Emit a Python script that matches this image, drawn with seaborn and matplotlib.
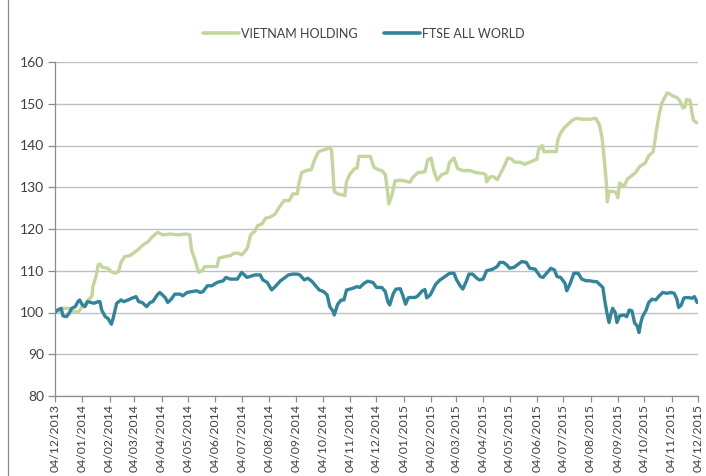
import matplotlib
matplotlib.use("Agg")
import matplotlib.pyplot as plt
import matplotlib.dates as mdates
from matplotlib.lines import Line2D
import seaborn as sns
import pandas as pd

# ---------------- data ----------------
vn_dates = [
    "2013-12-04", "2013-12-06", "2013-12-12", "2013-12-16", "2013-12-21", "2013-12-24", "2013-12-30",
    "2014-01-04", "2014-01-09", "2014-01-13", "2014-01-15", "2014-01-16", "2014-01-20", "2014-01-22",
    "2014-01-24", "2014-01-27", "2014-02-02", "2014-02-06", "2014-02-10", "2014-02-14", "2014-02-17",
    "2014-02-21", "2014-02-27", "2014-03-04", "2014-03-08", "2014-03-14", "2014-03-20", "2014-03-23",
    "2014-03-28", "2014-03-31", "2014-04-05", "2014-04-14", "2014-04-23", "2014-05-02", "2014-05-06",
    "2014-05-08", "2014-05-12", "2014-05-16", "2014-05-20", "2014-05-23", "2014-05-31", "2014-06-06",
    "2014-06-08", "2014-06-15", "2014-06-21", "2014-06-25", "2014-06-30", "2014-07-04", "2014-07-09",
    "2014-07-11", "2014-07-14", "2014-07-19", "2014-07-22", "2014-07-27", "2014-07-31", "2014-08-05",
    "2014-08-11", "2014-08-15", "2014-08-21", "2014-08-27", "2014-08-31", "2014-09-05", "2014-09-07",
    "2014-09-10", "2014-09-15", "2014-09-21", "2014-09-24", "2014-09-29", "2014-10-03", "2014-10-09",
    "2014-10-12", "2014-10-14", "2014-10-17", "2014-10-21", "2014-10-26", "2014-10-29", "2014-10-31",
    "2014-11-04", "2014-11-09", "2014-11-12", "2014-11-14", "2014-11-19", "2014-11-27", "2014-12-01",
    "2014-12-06", "2014-12-10", "2014-12-14", "2014-12-16", "2014-12-18", "2014-12-22", "2014-12-25",
    "2014-12-31", "2015-01-05", "2015-01-11", "2015-01-14", "2015-01-20", "2015-01-28", "2015-01-31",
    "2015-02-04", "2015-02-07", "2015-02-11", "2015-02-16", "2015-02-22", "2015-02-25", "2015-03-02",
    "2015-03-06", "2015-03-12", "2015-03-20", "2015-03-27", "2015-04-04", "2015-04-07", "2015-04-08",
    "2015-04-12", "2015-04-16", "2015-04-20", "2015-04-23", "2015-04-28", "2015-05-02", "2015-05-06",
    "2015-05-10", "2015-05-16", "2015-05-21", "2015-05-29", "2015-06-04", "2015-06-06", "2015-06-10",
    "2015-06-12", "2015-06-19", "2015-06-26", "2015-06-28", "2015-07-01", "2015-07-05", "2015-07-09",
    "2015-07-14", "2015-07-19", "2015-07-26", "2015-08-03", "2015-08-10", "2015-08-14", "2015-08-17",
    "2015-08-19", "2015-08-22", "2015-08-23", "2015-08-25", "2015-08-29", "2015-09-02", "2015-09-04",
    "2015-09-06", "2015-09-11", "2015-09-15", "2015-09-20", "2015-09-24", "2015-09-29", "2015-10-05",
    "2015-10-09", "2015-10-14", "2015-10-16", "2015-10-18", "2015-10-21", "2015-10-24", "2015-10-26",
    "2015-10-30", "2015-11-02", "2015-11-06", "2015-11-10", "2015-11-13", "2015-11-17", "2015-11-19",
    "2015-11-21", "2015-11-25", "2015-11-27", "2015-11-29", "2015-12-02", "2015-12-04",
]
vn_values = [
    100.5, 100.0, 101.0, 101.0, 101.0, 100.4, 100.0,
    101.4, 102.6, 103.5, 104.0, 106.2, 109.0, 111.4,
    111.6, 110.8, 110.6, 109.8, 109.4, 109.8, 112.0,
    113.4, 113.6, 114.4, 115.0, 116.2, 117.0, 117.8,
    118.8, 119.2, 118.6, 118.8, 118.6, 118.8, 118.6,
    115.0, 112.6, 109.6, 110.0, 111.0, 111.0, 111.0,
    113.0, 113.4, 113.6, 114.2, 114.2, 113.8, 115.0,
    115.8, 118.6, 119.5, 120.8, 121.2, 122.6, 122.8,
    123.6, 125.0, 126.8, 126.8, 128.4, 128.4, 131.0,
    133.5, 134.0, 134.2, 136.2, 138.5, 138.8, 139.2,
    139.6, 138.8, 129.0, 128.4, 128.2, 128.0, 131.4,
    133.2, 134.4, 134.6, 137.4, 137.4, 137.4, 134.8,
    134.2, 134.0, 133.0, 130.0, 126.0, 128.5, 131.5,
    131.7, 131.5, 131.2, 132.3, 133.5, 133.7, 136.5,
    137.0, 134.0, 131.7, 133.0, 133.5, 136.0, 137.0,
    134.5, 134.0, 134.0, 133.5, 133.3, 133.0, 131.3,
    132.5, 132.5, 131.8, 133.0, 135.0, 137.0, 136.8,
    136.0, 136.0, 135.5, 136.2, 136.7, 139.0, 140.0,
    138.5, 138.6, 138.5, 141.5, 143.0, 144.2, 145.0,
    146.0, 146.5, 146.3, 146.3, 146.5, 145.0, 142.0,
    138.0, 131.0, 126.5, 129.0, 129.0, 128.8, 127.5,
    131.0, 130.2, 132.0, 132.8, 133.5, 135.0, 135.8,
    137.5, 138.5, 141.0, 144.0, 147.5, 150.2, 151.0,
    152.6, 152.3, 151.8, 151.5, 150.8, 149.0, 149.2,
    151.0, 150.8, 148.0, 146.0, 145.5, 145.5,
]

ftse_dates = [
    "2013-12-04", "2013-12-07", "2013-12-11", "2013-12-13", "2013-12-17", "2013-12-20", "2013-12-23",
    "2013-12-27", "2013-12-30", "2014-01-01", "2014-01-04", "2014-01-07", "2014-01-10", "2014-01-14",
    "2014-01-17", "2014-01-22", "2014-01-24", "2014-01-26", "2014-01-30", "2014-02-02", "2014-02-06",
    "2014-02-08", "2014-02-12", "2014-02-17", "2014-02-20", "2014-02-25", "2014-03-01", "2014-03-06",
    "2014-03-09", "2014-03-13", "2014-03-16", "2014-03-18", "2014-03-22", "2014-03-25", "2014-03-30",
    "2014-04-02", "2014-04-06", "2014-04-08", "2014-04-11", "2014-04-15", "2014-04-19", "2014-04-25",
    "2014-04-28", "2014-05-03", "2014-05-08", "2014-05-14", "2014-05-18", "2014-05-21", "2014-05-26",
    "2014-05-31", "2014-06-06", "2014-06-13", "2014-06-16", "2014-06-21", "2014-06-29", "2014-07-04",
    "2014-07-10", "2014-07-13", "2014-07-19", "2014-07-25", "2014-07-28", "2014-08-02", "2014-08-07",
    "2014-08-11", "2014-08-17", "2014-08-21", "2014-08-26", "2014-08-31", "2014-09-05", "2014-09-08",
    "2014-09-13", "2014-09-17", "2014-09-22", "2014-09-25", "2014-09-30", "2014-10-05", "2014-10-09",
    "2014-10-12", "2014-10-16", "2014-10-17", "2014-10-21", "2014-10-25", "2014-10-28", "2014-10-31",
    "2014-11-04", "2014-11-07", "2014-11-12", "2014-11-15", "2014-11-20", "2014-11-24", "2014-11-30",
    "2014-12-04", "2014-12-10", "2014-12-14", "2014-12-17", "2014-12-19", "2014-12-23", "2014-12-26",
    "2014-12-31", "2015-01-03", "2015-01-06", "2015-01-09", "2015-01-12", "2015-01-17", "2015-01-20",
    "2015-01-25", "2015-01-28", "2015-01-30", "2015-02-03", "2015-02-05", "2015-02-09", "2015-02-14",
    "2015-02-17", "2015-02-21", "2015-02-25", "2015-03-02", "2015-03-05", "2015-03-09", "2015-03-12",
    "2015-03-16", "2015-03-19", "2015-03-23", "2015-03-28", "2015-03-31", "2015-04-04", "2015-04-08",
    "2015-04-12", "2015-04-15", "2015-04-20", "2015-04-23", "2015-04-27", "2015-05-01", "2015-05-04",
    "2015-05-09", "2015-05-14", "2015-05-18", "2015-05-23", "2015-05-27", "2015-06-02", "2015-06-08",
    "2015-06-11", "2015-06-16", "2015-06-20", "2015-06-24", "2015-06-27", "2015-07-01", "2015-07-06",
    "2015-07-08", "2015-07-12", "2015-07-16", "2015-07-21", "2015-07-25", "2015-07-30", "2015-08-03",
    "2015-08-08", "2015-08-11", "2015-08-15", "2015-08-18", "2015-08-20", "2015-08-23", "2015-08-25",
    "2015-08-27", "2015-08-29", "2015-09-01", "2015-09-03", "2015-09-06", "2015-09-11", "2015-09-14",
    "2015-09-17", "2015-09-20", "2015-09-23", "2015-09-26", "2015-09-28", "2015-09-30", "2015-10-02",
    "2015-10-06", "2015-10-09", "2015-10-13", "2015-10-17", "2015-10-21", "2015-10-25", "2015-10-30",
    "2015-11-03", "2015-11-07", "2015-11-10", "2015-11-12", "2015-11-15", "2015-11-18", "2015-11-23",
    "2015-11-27", "2015-11-30", "2015-12-03",
]
ftse_values = [
    100.0, 100.6, 101.0, 99.2, 99.0, 99.8, 101.0,
    101.4, 102.6, 103.0, 101.8, 101.4, 102.6, 102.4,
    102.2, 102.6, 102.6, 100.6, 99.0, 98.6, 97.2,
    98.6, 102.2, 103.0, 102.6, 103.0, 103.4, 103.8,
    102.6, 102.4, 101.8, 101.4, 102.4, 102.6, 104.2,
    104.8, 104.0, 103.6, 102.4, 103.2, 104.4, 104.4,
    104.0, 104.8, 105.0, 105.2, 104.8, 105.0, 106.4,
    106.4, 107.2, 107.6, 108.4, 108.0, 108.0, 109.6,
    108.4, 108.6, 109.0, 109.0, 107.8, 107.2, 105.4,
    106.2, 107.6, 108.2, 109.0, 109.2, 109.2, 109.0,
    107.8, 108.2, 107.4, 106.6, 105.4, 105.0, 104.2,
    101.4, 100.2, 99.4, 102.0, 103.0, 103.0, 105.4,
    105.6, 105.8, 106.2, 106.0, 107.0, 107.5, 107.2,
    106.0, 106.0, 105.0, 102.5, 101.8, 104.5, 105.6,
    105.7, 104.0, 102.0, 103.5, 103.6, 103.6, 104.0,
    105.2, 105.5, 103.5, 104.2, 105.0, 106.7, 107.8,
    108.2, 108.8, 109.4, 109.4, 107.8, 106.4, 105.6,
    107.5, 109.2, 109.2, 108.2, 107.8, 108.0, 110.0,
    110.2, 110.4, 111.0, 112.0, 112.0, 111.4, 110.6,
    110.8, 111.6, 112.2, 112.0, 110.6, 110.4, 108.6,
    108.4, 109.6, 110.6, 110.2, 108.6, 108.4, 107.0,
    105.2, 107.0, 109.4, 109.4, 108.0, 107.6, 107.6,
    107.4, 107.4, 106.6, 106.0, 103.0, 99.5, 97.6,
    99.5, 101.0, 100.0, 97.6, 99.2, 99.4, 99.0,
    100.6, 100.4, 97.5, 96.8, 95.2, 97.5, 99.0,
    100.5, 102.4, 103.2, 103.0, 104.0, 104.8, 104.6,
    104.8, 104.6, 103.2, 101.2, 101.8, 103.5, 103.6,
    103.4, 103.8, 102.4,
]

series_names = ["VIETNAM HOLDING", "FTSE ALL WORLD"]
series_colors = ["#c3d69b", "#31849b"]
y_ticks = [80, 90, 100, 110, 120, 130, 140, 150, 160]
tick_dates = pd.date_range("2013-12-01", "2015-12-01", freq="MS") + pd.Timedelta(days=3)

# ---------------- build frame ----------------
df = pd.concat([
    pd.DataFrame({"date": pd.to_datetime(vn_dates), "value": vn_values, "series": series_names[0]}),
    pd.DataFrame({"date": pd.to_datetime(ftse_dates), "value": ftse_values, "series": series_names[1]}),
], ignore_index=True)

sns.set_theme(style="white")
plt.rcParams["font.family"] = ["Lato", "DejaVu Sans"]

fig = plt.figure(figsize=(7.06, 4.76), dpi=100)
ax = fig.add_axes([55 / 706, 1 - 396 / 476, (698 - 55) / 706, (396 - 62) / 476])

palette = dict(zip(series_names, series_colors))
sns.lineplot(data=df, x="date", y="value", hue="series", hue_order=series_names,
             palette=palette, linewidth=2.4, ax=ax, legend=False, estimator=None, sort=True)

ax.set_xlim(pd.Timestamp("2013-12-04"), pd.Timestamp("2015-12-04"))
ax.set_ylim(80, 160)
ax.set_yticks(y_ticks)
ax.set_xticks(tick_dates)
ax.xaxis.set_major_formatter(mdates.DateFormatter("%d/%m/%Y"))
ax.set_xlabel("")
ax.set_ylabel("")

ax.grid(axis="y", color="#c0c0c0", linewidth=1.0)
ax.grid(axis="x", visible=False)
ax.set_axisbelow(True)

for side in ["top", "right"]:
    ax.spines[side].set_visible(False)
for side in ["left", "bottom"]:
    ax.spines[side].set_color("#8c8c8c")
    ax.spines[side].set_linewidth(0.9)

ax.tick_params(axis="y", which="major", direction="out", length=5, width=0.9,
               color="#8c8c8c", labelsize=10, labelcolor="#404040", pad=3, left=True)
ax.tick_params(axis="x", which="major", direction="out", length=4, width=0.9,
               color="#8c8c8c", labelsize=8.8, labelcolor="#404040", pad=2,
               rotation=90, bottom=True)

handles = [Line2D([0], [0], color=c, linewidth=2.6) for c in series_colors]
fig.legend(handles, series_names, loc="center", bbox_to_anchor=(0.515, 0.929), ncol=2,
           frameon=False, fontsize=9, handlelength=2.9, handletextpad=0.15,
           columnspacing=2.1, labelcolor="#404040")

# chart border line at the left edge
fig.add_artist(Line2D([8 / 706, 8 / 706], [0, 1], transform=fig.transFigure,
                      color="#8c8c8c", linewidth=0.9))

fig.savefig("out.png", dpi=100)
